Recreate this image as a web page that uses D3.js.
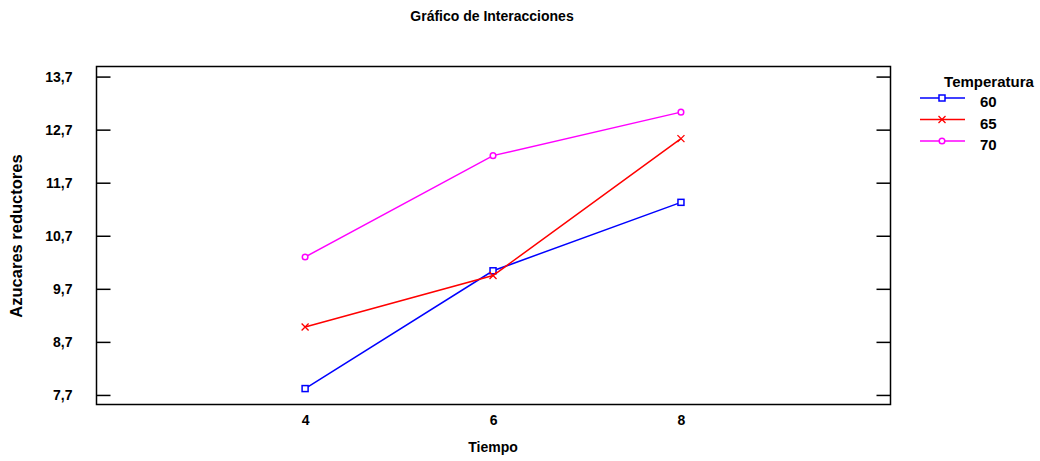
<!DOCTYPE html>
<html>
<head>
<meta charset="utf-8">
<script src="https://cdn.jsdelivr.net/npm/d3@7"></script>
<style>
  html, body { margin: 0; padding: 0; background: #fff; }
  svg text { font-family: "Liberation Sans Narrow", "Arial Narrow", "Liberation Sans", Arial, sans-serif; font-weight: bold; fill: #000; }
</style>
</head>
<body>
<svg id="chart" width="1040" height="461"></svg>
<script>
// Tiempo levels on the x axis
const tiempo = [4, 6, 8];
// Temperatura levels (one line each)
const temperaturas = ["60", "65", "70"];
// Mean "Azucares reductores" for each temperatura, by tiempo
const serie60 = [7.82, 10.04, 11.33];
const serie65 = [8.98, 9.95, 12.53];
const serie70 = [10.30, 12.21, 13.03];
// Y tick labels
const yTicks = [7.7, 8.7, 9.7, 10.7, 11.7, 12.7, 13.7];

const colores = ["#0000ff", "#ff0000", "#ff00ff"];
const marcadores = ["square", "cross", "circle"];
const series = [serie60, serie65, serie70];

const svg = d3.select("#chart");
const plot = { left: 96.5, right: 890.5, top: 66.5, bottom: 404.5 };

const x = d3.scaleLinear().domain([1.78, 10.23]).range([plot.left, plot.right]);
const y = d3.scaleLinear().domain([7.52, 13.89]).range([plot.bottom, plot.top]);
const fmt = v => d3.format(".1f")(v).replace(".", ",");

// Title
svg.append("text").attr("x", 492).attr("y", 21).attr("text-anchor", "middle")
  .style("font-size", "14px").text("Gráfico de Interacciones");

// Plot frame
svg.append("rect").attr("x", plot.left).attr("y", plot.top)
  .attr("width", plot.right - plot.left).attr("height", plot.bottom - plot.top)
  .attr("fill", "none").attr("stroke", "#000").attr("stroke-width", 1.5);

// Left axis: ticks drawn inward, labels outside
const yAxisL = svg.append("g").attr("transform", `translate(${plot.left},0)`)
  .call(d3.axisLeft(y).tickValues(yTicks).tickSize(-14).tickPadding(24).tickFormat(fmt));
yAxisL.select(".domain").remove();
yAxisL.selectAll("line").attr("stroke", "#000").attr("stroke-width", 1.5);
yAxisL.selectAll("text").style("font-size", "14px").style("font-family", null);

// Right axis ticks, inward, no labels
const yAxisR = svg.append("g").attr("transform", `translate(${plot.right},0)`)
  .call(d3.axisRight(y).tickValues(yTicks).tickSize(-14).tickFormat(""));
yAxisR.select(".domain").remove();
yAxisR.selectAll("line").attr("stroke", "#000").attr("stroke-width", 1.5);

// Bottom axis labels
const xAxis = svg.append("g").attr("transform", `translate(0,${plot.bottom})`)
  .call(d3.axisBottom(x).tickValues(tiempo).tickSize(0).tickPadding(11).tickFormat(d3.format("d")));
xAxis.select(".domain").remove();
xAxis.selectAll("text").style("font-size", "14px").style("font-family", null);

// Axis titles
svg.append("text").attr("x", 493).attr("y", 452).attr("text-anchor", "middle")
  .style("font-size", "14px").text("Tiempo");
svg.append("text").attr("transform", "translate(22,236) rotate(-90)")
  .attr("text-anchor", "middle")
  .style("font-family", "'Liberation Sans', Arial, sans-serif")
  .style("font-size", "16.5px").text("Azucares reductores");

function marker(g, tipo, cx, cy, color) {
  if (tipo === "square") {
    g.append("rect").attr("x", cx - 3).attr("y", cy - 3).attr("width", 6).attr("height", 6)
      .attr("fill", "#fff").attr("stroke", color).attr("stroke-width", 1.5);
  } else if (tipo === "cross") {
    const s = 3.5;
    g.append("path").attr("d", `M${cx - s},${cy - s}L${cx + s},${cy + s}M${cx - s},${cy + s}L${cx + s},${cy - s}`)
      .attr("stroke", color).attr("stroke-width", 1.3).attr("fill", "none");
  } else {
    g.append("circle").attr("cx", cx).attr("cy", cy).attr("r", 2.8)
      .attr("fill", "#fff").attr("stroke", color).attr("stroke-width", 1.5);
  }
}

const line = d3.line().x((d, i) => x(tiempo[i])).y(d => y(d));
series.forEach((vals, k) => {
  const g = svg.append("g");
  g.append("path").datum(vals).attr("d", line)
    .attr("fill", "none").attr("stroke", colores[k]).attr("stroke-width", 1.5);
  vals.forEach((v, i) => marker(g, marcadores[k], x(tiempo[i]), y(v), colores[k]));
});

// Legend
const legend = svg.append("g");
legend.append("text").attr("x", 989).attr("y", 87).attr("text-anchor", "middle")
  .style("font-size", "15px").text("Temperatura");
const legY = [98, 119.5, 141];
temperaturas.forEach((t, k) => {
  legend.append("line").attr("x1", 920).attr("x2", 965).attr("y1", legY[k]).attr("y2", legY[k])
    .attr("stroke", colores[k]).attr("stroke-width", 1.5);
  marker(legend, marcadores[k], 942, legY[k], colores[k]);
  legend.append("text").attr("x", 980).attr("y", legY[k] + 9)
    .style("font-size", "15px").text(t);
});
</script>
</body>
</html>
